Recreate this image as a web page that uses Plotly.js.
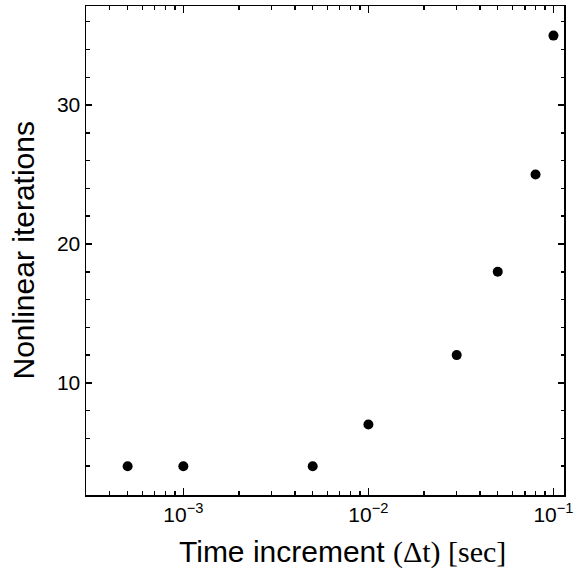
<!DOCTYPE html>
<html><head><meta charset="utf-8">
<script src="https://cdn.plot.ly/plotly-3.0.1.min.js"></script>
<style>body{margin:0;padding:0;background:#fff}</style>
</head><body>
<div id="chart" style="width:577px;height:571px"></div>
<script>
// data
const dt = [0.0005, 0.001, 0.005, 0.01, 0.03, 0.05, 0.08, 0.1];
const iterations = [4, 4, 4, 7, 12, 18, 25, 35];
// ticks
const xTickVals = [0.001, 0.01, 0.1];
const xTickText = ['10<sup>\u22123</sup>', '10<sup>\u22122</sup>', '10<sup>\u22121</sup>'];
const yTickVals = [10, 20, 30];

const sans = 'Liberation Sans, Arial, Helvetica, sans-serif';
const serif = 'Liberation Serif, Times New Roman, serif';
const xRange = [-3.526, -0.943];
const yRange = [1.93, 37.13];

const trace = {
  x: dt, y: iterations, type: 'scatter', mode: 'markers',
  marker: {color: '#000', size: 10}, cliponaxis: false
};
const layout = {
  width: 577, height: 571,
  margin: {l: 86, r: 13, t: 6, b: 76},
  paper_bgcolor: '#fff', plot_bgcolor: '#fff',
  showlegend: false,
  font: {family: sans, color: '#000', size: 21},
  xaxis: {
    type: 'log', range: xRange,
    tickvals: xTickVals, ticktext: xTickText,
    ticks: 'inside', ticklen: 7, tickwidth: 1.5, tickcolor: '#000',
    minor: {ticks: 'inside', ticklen: 4, tickwidth: 1.5, dtick: 'D1', tickcolor: '#000', showgrid: false},
    showline: true, linecolor: '#000', linewidth: 1.5, mirror: 'allticks',
    showgrid: false, zeroline: false,
    tickfont: {size: 21}
  },
  yaxis: {
    range: yRange,
    tickvals: yTickVals,
    ticks: 'inside', ticklen: 6, tickwidth: 1.5, tickcolor: '#000',
    minor: {ticks: 'inside', ticklen: 3.5, tickwidth: 1.5, dtick: 2, tickcolor: '#000', showgrid: false},
    showline: true, linecolor: '#000', linewidth: 1.5, mirror: 'allticks',
    showgrid: false, zeroline: false,
    tickfont: {size: 21}
  },
  annotations: [
    {xref: 'paper', yref: 'paper', x: 0.5356, y: 0, xanchor: 'center', yanchor: 'middle', yshift: -57,
     showarrow: false, font: {size: 30},
     text: 'Time increment <span style="font-family:' + serif + '">(\u0394t) [sec]</span>'},
    {xref: 'paper', yref: 'paper', x: 0, y: 0.5, xanchor: 'center', yanchor: 'middle', xshift: -63,
     textangle: -90, showarrow: false, font: {size: 30},
     text: 'Nonlinear iterations'}
  ]
};
Plotly.newPlot('chart', [trace], layout, {displayModeBar: false, staticPlot: true});
</script>
</body></html>
